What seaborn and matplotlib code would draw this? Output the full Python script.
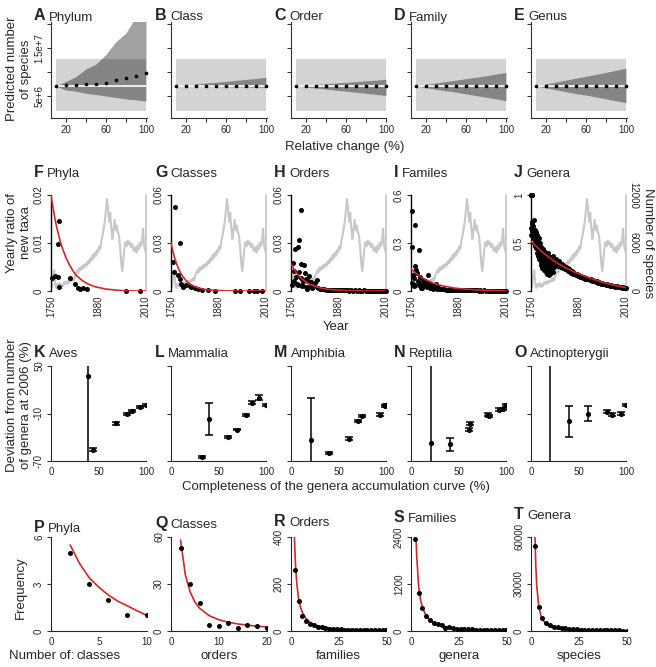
import numpy as np
import pandas as pd
import seaborn as sns
import matplotlib
matplotlib.use("Agg")
import matplotlib.pyplot as plt

sns.set_style("ticks")
plt.rcParams["font.family"] = ["Liberation Sans", "DejaVu Sans"]
plt.rcParams["axes.linewidth"] = 0.8

W, H = 656, 667
RED = "#d02828"
GREY = "#c8c8c8"
LEFTS = [51, 171, 291, 411, 531]
TITLE_X = [34, 155, 274, 394, 514]

# ---------------- row 1 : predicted number of species (millions) ----------------
rel_change = [10, 20, 30, 40, 50, 60, 70, 80, 90, 100]
row1_names = [("A", "Phylum"), ("B", "Class"), ("C", "Order"), ("D", "Family"), ("E", "Genus")]
pred_species = [
    [7.15, 7.35, 7.35, 7.56, 7.56, 7.77, 8.33, 8.75, 9.17, 9.79],
    [7.1, 7.1, 7.1, 7.1, 7.1, 7.1, 7.1, 7.1, 7.1, 7.1],
    [7.1, 7.1, 7.1, 7.1, 7.1, 7.1, 7.1, 7.1, 7.1, 7.05],
    [7.1, 7.1, 7.1, 7.1, 7.1, 7.1, 7.1, 7.1, 7.05, 7.0],
    [7.1, 7.1, 7.1, 7.1, 7.0, 7.15, 7.1, 7.1, 7.1, 7.15],
]
band_upper = [
    [7.1, 8.0, 9.0, 10.6, 11.6, 13.6, 16.3, 18.1, 21.5, 23.0],
    [7.1, 7.3, 7.5, 7.7, 7.85, 8.05, 8.25, 8.45, 8.65, 8.9],
    [7.1, 7.25, 7.4, 7.55, 7.7, 7.85, 8.0, 8.15, 8.3, 8.5],
    [7.1, 7.4, 7.7, 8.0, 8.3, 8.6, 8.9, 9.2, 9.55, 9.9],
    [7.1, 7.5, 7.9, 8.3, 8.7, 9.1, 9.5, 9.9, 10.35, 10.8],
]
band_lower = [
    [7.1, 6.25, 6.0, 5.56, 5.3, 5.0, 4.7, 4.4, 4.2, 3.96],
    [7.1, 7.05, 7.0, 6.98, 6.95, 6.92, 6.9, 6.87, 6.85, 6.8],
    [7.1, 6.88, 6.66, 6.44, 6.22, 6.0, 5.78, 5.56, 5.34, 5.1],
    [7.1, 6.75, 6.4, 6.1, 5.8, 5.45, 5.1, 4.75, 4.4, 4.0],
    [7.1, 6.7, 6.3, 5.9, 5.5, 5.2, 4.8, 4.4, 4.0, 3.6],
]
range_x = [10, 100]
range_lo, range_hi = 1.9, 12.7
baseline_species = 7.1

# ---------------- row 2 : yearly ratio of new taxa ----------------
grey_years = np.arange(1750, 2009, 3)
grey_species = [
    300, 600, 2000, 2600, 700, 400, 900, 600, 1000, 500,
    800, 600, 1100, 900, 1200, 900, 1300, 1100, 1400, 1200,
    1600, 1300, 1900, 2200, 2600, 2300, 2900, 2600, 3100, 2800,
    3300, 3000, 3500, 3200, 3800, 3500, 4100, 3800, 4500, 4100,
    4800, 4400, 5100, 4800, 5600, 5300, 6300, 6900, 7700, 8600,
    9900, 11500, 10300, 8700, 9800, 7900, 6500, 7700, 8900, 7600,
    8200, 7400, 6900, 5500, 3600, 2500, 3900, 5300, 6100, 5600,
    6300, 5800, 6100, 5500, 5900, 5200, 5000, 5500, 4800, 5700,
    5200, 6100, 5600, 6200, 7800, 5600, 5000,
]
fit_years = [1750, 1755, 1760, 1765, 1770, 1775, 1780, 1790, 1800, 1810,
             1820, 1835, 1850, 1870, 1900, 1940, 1980, 2010]
fit_phyla = [0.0200, 0.0176, 0.0154, 0.0135, 0.0119, 0.0104, 0.0092, 0.0071, 0.0055, 0.0042,
             0.0032, 0.0022, 0.0015, 0.0009, 0.0004, 0.0001, 0.0000, 0.0000]
fit_classes = [0.0300, 0.0249, 0.0207, 0.0172, 0.0143, 0.0119, 0.0099, 0.0068, 0.0047, 0.0033,
               0.0023, 0.0013, 0.0007, 0.0004, 0.0001, 0.0000, 0.0000, 0.0000]
fit_orders = [0.0170, 0.0149, 0.0130, 0.0114, 0.0099, 0.0087, 0.0076, 0.0058, 0.0044, 0.0034,
              0.0026, 0.0017, 0.0011, 0.0007, 0.0003, 0.0001, 0.0000, 0.0000]
fit_families = [0.140, 0.128, 0.118, 0.108, 0.099, 0.092, 0.084, 0.071, 0.060, 0.050,
                0.043, 0.033, 0.026, 0.018, 0.011, 0.006, 0.003, 0.002]
fit_genera = [0.520, 0.500, 0.480, 0.462, 0.444, 0.426, 0.410, 0.378, 0.348, 0.320,
              0.295, 0.262, 0.232, 0.196, 0.150, 0.098, 0.058, 0.035]

new_phyla = [(1754, 0.0027), (1762, 0.0032), (1768, 0.0030), (1773, 0.0146), (1768, 0.0098),
             (1773, 0.0009), (1803, 0.0028), (1817, 0.0014), (1823, 0.0007), (1828, 0.0004),
             (1837, 0.0006), (1848, 0.0005), (1955, 0.0001), (1994, 0.0001)]
new_classes = [(1761, 0.0527), (1775, 0.0298), (1755, 0.018), (1759, 0.012), (1768, 0.010),
               (1775, 0.0073), (1778, 0.0044), (1782, 0.0027), (1792, 0.0037), (1801, 0.003),
               (1806, 0.0028), (1815, 0.0018), (1824, 0.0012), (1834, 0.0008), (1852, 0.0005),
               (1871, 0.0003), (1926, 0.0002), (1940, 0.0002), (1963, 0.0002), (1977, 0.0002),
               (1986, 0.0002), (1998, 0.0002)]
new_orders = [(1776, 0.0507), (1773, 0.0316), (1761, 0.0265), (1768, 0.0273), (1755, 0.0176),
              (1778, 0.0166), (1785, 0.0161), (1759, 0.0124), (1773, 0.012), (1787, 0.0114),
              (1763, 0.009), (1776, 0.008), (1790, 0.0076), (1798, 0.0093), (1757, 0.006),
              (1783, 0.006), (1796, 0.0064), (1805, 0.0056), (1815, 0.0049), (1821, 0.0071),
              (1768, 0.0037), (1779, 0.003), (1792, 0.0025), (1801, 0.0033), (1811, 0.0025),
              (1825, 0.002), (1752, 0.004), (1766, 0.0045), (1781, 0.0035), (1794, 0.0015),
              (1808, 0.0018),
              (1830, 0.0014), (1835, 0.0010), (1840, 0.0012), (1845, 0.0008), (1850, 0.0009),
              (1855, 0.0007), (1860, 0.0006), (1865, 0.0008), (1870, 0.0005), (1875, 0.0006),
              (1880, 0.0005), (1885, 0.0004), (1890, 0.0006), (1895, 0.0004), (1900, 0.0005),
              (1905, 0.0004), (1910, 0.0003), (1915, 0.0005), (1920, 0.0003), (1925, 0.0004),
              (1930, 0.0003), (1935, 0.0004), (1940, 0.0003), (1945, 0.0002), (1950, 0.0004),
              (1955, 0.0003), (1960, 0.0002), (1965, 0.0003), (1970, 0.0002), (1975, 0.0003),
              (1980, 0.0002), (1985, 0.0003), (1990, 0.0002), (1995, 0.0002), (2000, 0.0003),
              (2005, 0.0002), (2010, 0.0002)]
new_families = [(1753, 0.503), (1760, 0.41), (1753, 0.275), (1772, 0.255), (1762, 0.155),
                (1765, 0.13), (1756, 0.10), (1767, 0.11), (1775, 0.09), (1759, 0.08),
                (1782, 0.071), (1789, 0.064), (1796, 0.10), (1752, 0.05), (1770, 0.06),
                (1778, 0.045), (1785, 0.055), (1792, 0.04), (1800, 0.05), (1806, 0.035),
                (1812, 0.03), (1818, 0.045), (1824, 0.025), (1757, 0.03), (1773, 0.035),
                (1780, 0.02), (1787, 0.03), (1794, 0.025), (1803, 0.02), (1810, 0.015),
                (1816, 0.02), (1822, 0.012), (1828, 0.015), (1762, 0.04), (1776, 0.02),
                (1830, 0.012), (1835, 0.010), (1840, 0.011), (1845, 0.009), (1850, 0.008),
                (1855, 0.009), (1860, 0.007), (1865, 0.008), (1870, 0.006), (1875, 0.007),
                (1880, 0.006), (1885, 0.006), (1890, 0.005), (1895, 0.006), (1900, 0.005),
                (1905, 0.005), (1910, 0.004), (1915, 0.005), (1920, 0.004), (1925, 0.004),
                (1930, 0.004), (1935, 0.003), (1940, 0.004), (1945, 0.003), (1950, 0.004),
                (1955, 0.003), (1960, 0.003), (1965, 0.003), (1970, 0.003), (1975, 0.003),
                (1980, 0.002), (1985, 0.003), (1990, 0.002), (1995, 0.003), (2000, 0.002),
                (2005, 0.002), (2010, 0.002)]
new_genera = [(1750, 1.0), (1751, 1.0), (1752, 1.0), (1753, 1.0),
              (1750, 0.58), (1751, 0.66), (1752, 0.72), (1753, 0.62), (1754, 0.70), (1755, 0.55),
              (1756, 0.68), (1757, 0.60), (1758, 0.74), (1759, 0.50), (1760, 0.64), (1761, 0.57),
              (1762, 0.47), (1763, 0.61), (1764, 0.53), (1765, 0.45), (1766, 0.58), (1767, 0.40),
              (1768, 0.52), (1769, 0.48), (1770, 0.36), (1771, 0.55), (1772, 0.43), (1773, 0.33),
              (1774, 0.50), (1775, 0.39), (1776, 0.30), (1777, 0.46), (1778, 0.27), (1779, 0.42),
              (1780, 0.35), (1781, 0.24), (1782, 0.44), (1783, 0.31), (1784, 0.38), (1785, 0.22),
              (1786, 0.29), (1787, 0.41), (1788, 0.26), (1789, 0.34), (1790, 0.20), (1791, 0.37),
              (1792, 0.28), (1793, 0.18), (1794, 0.32), (1795, 0.24), (1796, 0.40), (1797, 0.21),
              (1798, 0.30), (1799, 0.17), (1800, 0.27), (1801, 0.35), (1802, 0.22), (1803, 0.31),
              (1804, 0.19), (1805, 0.26), (1806, 0.33), (1807, 0.23), (1808, 0.29), (1809, 0.20),
              (1810, 0.36), (1812, 0.25), (1814, 0.31), (1816, 0.27), (1818, 0.33), (1820, 0.28),
              (1822, 0.30), (1824, 0.26), (1826, 0.31), (1828, 0.27), (1830, 0.29), (1832, 0.25),
              (1834, 0.27), (1836, 0.28), (1838, 0.24), (1840, 0.26), (1842, 0.25), (1844, 0.23),
              (1846, 0.25), (1848, 0.22), (1850, 0.24), (1852, 0.21), (1854, 0.23), (1856, 0.20),
              (1858, 0.22), (1860, 0.19), (1862, 0.21), (1864, 0.18), (1866, 0.20), (1868, 0.19),
              (1870, 0.18), (1873, 0.17), (1876, 0.18), (1879, 0.16), (1882, 0.17), (1885, 0.15),
              (1888, 0.16), (1891, 0.14), (1894, 0.15), (1897, 0.13), (1900, 0.14), (1903, 0.12),
              (1906, 0.13), (1909, 0.12), (1912, 0.11), (1915, 0.12), (1918, 0.10), (1921, 0.11),
              (1924, 0.10), (1927, 0.09), (1930, 0.10), (1933, 0.08), (1936, 0.09), (1939, 0.08),
              (1942, 0.07), (1945, 0.08), (1948, 0.07), (1951, 0.07), (1954, 0.06), (1957, 0.07),
              (1960, 0.06), (1963, 0.06), (1966, 0.05), (1969, 0.06), (1972, 0.05), (1975, 0.05),
              (1978, 0.05), (1981, 0.04), (1984, 0.05), (1987, 0.04), (1990, 0.04), (1993, 0.04),
              (1996, 0.04), (1999, 0.03), (2002, 0.04), (2005, 0.03), (2008, 0.03), (2010, 0.03)]

row2 = [("F", "Phyla", new_phyla, fit_phyla, 0.02, ["0", "0.01", "0.02"]),
        ("G", "Classes", new_classes, fit_classes, 0.06, ["0", "0.03", "0.06"]),
        ("H", "Orders", new_orders, fit_orders, 0.06, ["0", "0.03", "0.06"]),
        ("I", "Familes", new_families, fit_families, 0.6, ["0", "0.3", "0.6"]),
        ("J", "Genera", new_genera, fit_genera, 1.0, ["0", "0.5", "1"])]

# ---------------- row 3 : deviation from number of genera at 2006 ----------------
# (completeness %, deviation %, error)
dev_aves = [(39.3, 37.7, 200), (44.6, -55.6, 2), (68, -22.3, 2), (79.6, -10.4, 1.5),
            (85, -6.6, 1.5), (93.7, -2.0, 1.5), (100, 1.0, 1.5)]
dev_mammalia = [(32.8, -64.9, 1.5), (40.3, -17.2, 20.5), (60.3, -39.6, 1), (69, -30.3, 1),
                (79.3, -12.1, 1), (85.2, 3.5, 2), (93.1, 9.9, 3), (100, 0.6, 1)]
dev_amphibia = [(20.7, -43.4, 53), (39.6, -59.9, 1.5), (61.4, -41.7, 1.5), (70.7, -19.7, 1.5),
                (74.8, -13.0, 1.5), (93.8, -11.3, 1.5), (99, -0.7, 1.5), (100, 0.6, 1.5)]
dev_reptilia = [(21, -46.8, 200), (41, -48.9, 8.5), (60.7, -30.3, 1.5), (62, -22.7, 2),
                (80.7, -11.3, 1.5), (82.5, -13.0, 1.5), (93, -5.0, 1.5), (96.5, -4.0, 1.5),
                (100, 0.6, 1.5)]
dev_actino = [(20, -150, 300), (39.7, -19.7, 19.6), (59.7, -10.0, 9), (80, -7.9, 2),
              (85.2, -11.3, 1.5), (94.8, -10.0, 1.5), (100, 0.6, 1.5)]
row3 = [("K", "Aves", dev_aves), ("L", "Mammalia", dev_mammalia), ("M", "Amphibia", dev_amphibia),
        ("N", "Reptilia", dev_reptilia), ("O", "Actinopterygii", dev_actino)]

# ---------------- row 4 : frequency distributions ----------------
freq_x_small = [2, 4, 6, 8, 10]
freq_phyla = [5, 3, 2, 1, 1]
freq_x_mid = [2, 4, 6, 8, 10, 12, 14, 16, 18, 20]
freq_classes = [53, 30, 18, 4, 3, 5, 2, 4, 3, 2]
freq_x_big = [2, 4, 6, 8, 10, 12, 14, 16, 18, 20, 22, 24, 26, 28, 30, 32, 34, 36, 38, 40,
              42, 44, 46, 48, 50]
freq_orders = [260, 128, 62, 44, 28, 26, 19, 19, 12, 9, 8, 7, 9, 6, 5, 6, 4, 5, 4, 3,
               4, 3, 3, 4, 5]
freq_families = [2349, 965, 598, 384, 282, 196, 178, 153, 85, 110, 68, 60, 55, 50, 45, 42,
                 38, 35, 33, 30, 28, 26, 25, 24, 22]
freq_genera = [54450, 15590, 8120, 5340, 3840, 2780, 2350, 1900, 1600, 1350, 1150, 1000,
               880, 780, 700, 620, 560, 500, 460, 420, 390, 360, 330, 310, 290]
fitx_phyla = [2, 3, 4, 5, 6, 7, 8, 9, 10]
fity_phyla = [5.5, 4.3, 3.4, 2.8, 2.3, 1.9, 1.6, 1.3, 1.0]
fitx_classes = [2, 3, 4, 5, 6, 8, 10, 12, 14, 16, 18, 20]
fity_classes = [58, 36, 25, 18.5, 14.5, 9.8, 7.2, 5.6, 4.5, 3.7, 3.1, 2.6]
fitx_orders = [1.8, 2, 2.5, 3, 4, 5, 6, 8, 10, 12, 15, 20, 25, 30, 40, 50]
fity_orders = [400, 350, 260, 205, 135, 100, 78, 52, 37, 28, 20, 13, 9, 7, 4.5, 3.2]
fitx_families = [2.6, 3, 4, 5, 6, 8, 10, 12, 14, 16, 20, 25, 30, 40, 50]
fity_families = [2400, 1900, 1150, 800, 600, 380, 270, 200, 160, 130, 90, 62, 46, 28, 19]
fitx_genera = [2.1, 2.5, 3, 4, 5, 6, 8, 10, 12, 15, 20, 25, 30, 40, 50]
fity_genera = [60000, 42000, 29000, 16500, 10500, 7400, 4200, 2700, 1900, 1200, 680, 440, 310, 170, 110]

row4 = [("P", "Phyla", freq_x_small, freq_phyla, fitx_phyla, fity_phyla, 10, [0, 5, 10], 6, ["0", "3", "6"], "classes"),
        ("Q", "Classes", freq_x_mid, freq_classes, fitx_classes, fity_classes, 20, [0, 10, 20], 60, ["0", "30", "60"], "orders"),
        ("R", "Orders", freq_x_big, freq_orders, fitx_orders, fity_orders, 50, [0, 25, 50], 400, ["0", "200", "400"], "families"),
        ("S", "Families", freq_x_big, freq_families, fitx_families, fity_families, 50, [0, 25, 50], 2400, ["0", "1200", "2400"], "genera"),
        ("T", "Genera", freq_x_big, freq_genera, fitx_genera, fity_genera, 50, [0, 25, 50], 60000, ["0", "30000", "60000"], "species")]
row4_title_base = [532, 528, 526, 522, 519]

fig = plt.figure(figsize=(W / 100, H / 100), dpi=100)


def px_axes(left, top, w, h):
    return fig.add_axes([left / W, 1 - (top + h) / H, w / W, h / H])


def fx(x):
    return x / W


def fy(y):
    return 1 - y / H


def panel_title(ax, col, baseline, letter, name):
    t = fig.text(fx(TITLE_X[col]), fy(baseline), letter, fontsize=11.5, fontweight="bold",
                 va="baseline", ha="left")
    ax.annotate(name, xy=(1, 0), xycoords=t, xytext=(2.5, 0), textcoords="offset points",
                va="bottom", ha="left", fontsize=9.5)


def style_ticks(ax):
    ax.tick_params(axis="both", direction="out", length=3, width=0.8, labelsize=7, pad=2,
                   color="#333333")


# ---- row 1
for i, (letter, name) in enumerate(row1_names):
    ax = px_axes(LEFTS[i], 22, 95.5, 96)
    ax.fill_between(range_x, range_lo, range_hi, color="#d3d3d3", lw=0, zorder=1)
    ax.fill_between(rel_change, band_lower[i], band_upper[i], color="black", alpha=0.37,
                    lw=0, zorder=2)
    ax.hlines(baseline_species, range_x[0], range_x[1], color="white", lw=1.2, zorder=3)
    sns.scatterplot(x=rel_change, y=pred_species[i], ax=ax, color="black", s=7,
                    linewidth=0, zorder=4, clip_on=False)
    ax.set_xlim(5.5, 100.5)
    ax.set_ylim(0.42, 20.4)
    ax.set_xticks([20, 40, 60, 80, 100])
    ax.set_xticklabels(["20", "", "60", "", "100"])
    ax.set_yticks([5, 10, 15, 20])
    if i == 0:
        ax.set_yticklabels(["5e+6", "", "1.5e+7", ""], rotation=90, va="center")
    else:
        ax.set_yticklabels([])
    sns.despine(ax=ax)
    for s in ("left", "bottom"):
        ax.spines[s].set_color("#333333")
    style_ticks(ax)
    panel_title(ax, i, 20.5, letter, name)

# ---- row 2
for i, (letter, name, pts, fit, ymax, ylabels) in enumerate(row2):
    ax = px_axes(LEFTS[i], 195, 95, 96)
    ax2 = ax.twinx()
    sns.lineplot(x=grey_years, y=grey_species, ax=ax2, color=GREY, lw=1.5)
    ax2.set_ylim(0, 12000)
    ax.set_zorder(ax2.get_zorder() + 1)
    ax.patch.set_visible(False)
    df = pd.DataFrame(pts, columns=["year", "ratio"])
    sns.scatterplot(data=df, x="year", y="ratio", ax=ax, color="black", s=13, linewidth=0,
                    zorder=3, clip_on=False)
    sns.lineplot(x=fit_years, y=fit, ax=ax, color=RED, lw=1.2, zorder=4)
    ax.set_xlim(1750, 2010)
    ax.set_ylim(0, ymax)
    ax.set_xticks([1750, 1880, 2010])
    ax.set_xticklabels(["1750", "1880", "2010"], rotation=90, va="top")
    ax.set_yticks([0, ymax / 2, ymax])
    ax.set_yticklabels(ylabels, rotation=90, va="center")
    ax.set_xlabel("")
    ax.set_ylabel("")
    for s in ("top", "right", "bottom"):
        ax.spines[s].set_visible(False)
    for s in ("top", "left", "bottom"):
        ax2.spines[s].set_visible(False)
    ax2.spines["right"].set_color(GREY)
    ax2.spines["right"].set_linewidth(1.3)
    ax.spines["left"].set_color("black")
    ax.spines["left"].set_linewidth(1.0)
    style_ticks(ax)
    ax.tick_params(axis="x", length=0, pad=3)
    ax2.set_ylabel("")
    if i == 4:
        ax2.set_yticks([0, 6000, 12000])
        ax2.set_yticklabels(["0", "6000", "12000"], rotation=270, va="center")
        ax2.tick_params(axis="y", length=0, pad=2, labelsize=7)
        ax2.set_ylabel("Number of species", rotation=270, va="bottom", fontsize=9.5,
                       labelpad=2)
    else:
        ax2.set_yticks([])
    panel_title(ax, i, 177, letter, name)

# ---- row 3
for i, (letter, name, pts) in enumerate(row3):
    ax = px_axes(LEFTS[i], 366, 95, 95)
    df = pd.DataFrame(pts, columns=["x", "y", "err"])
    ax.errorbar(df["x"], df["y"], yerr=df["err"], fmt="none", ecolor="black",
                elinewidth=1.1, capsize=2.6, capthick=1.1)
    sns.scatterplot(data=df, x="x", y="y", ax=ax, color="black", s=14, linewidth=0, zorder=3)
    ax.set_xlim(0, 100)
    ax.set_ylim(-70, 50)
    ax.set_xticks([0, 50, 100])
    ax.set_yticks([-70, -10, 50])
    if i == 0:
        ax.set_yticklabels(["-70", "-10", "50"], rotation=90, va="center")
    else:
        ax.set_yticklabels([])
    ax.set_xlabel("")
    ax.set_ylabel("")
    sns.despine(ax=ax)
    style_ticks(ax)
    ax.tick_params(axis="x", length=0, pad=4)
    panel_title(ax, i, 357, letter, name)

# ---- row 4
for i, (letter, name, x, y, fx_, fy_, xmax, xt, ymax, ylab, xlab) in enumerate(row4):
    ax = px_axes(LEFTS[i], 537, 95.5, 94)
    sns.lineplot(x=fx_, y=fy_, ax=ax, color=RED, lw=1.2, zorder=2)
    sns.scatterplot(x=x, y=y, ax=ax, color="black", s=13, linewidth=0, zorder=3)
    ax.set_xlim(0, xmax)
    ax.set_ylim(0, ymax)
    ax.set_xticks(xt)
    ax.set_xticklabels([str(v) for v in xt])
    ax.set_yticks([0, ymax / 2, ymax])
    ax.set_yticklabels(ylab, rotation=90, va="center")
    sns.despine(ax=ax)
    style_ticks(ax)
    ax.tick_params(axis="x", length=0, pad=4)
    panel_title(ax, i, row4_title_base[i], letter, name)
    fig.text(fx(LEFTS[i] + 47.75), fy(656), xlab, ha="center", va="center", fontsize=9.5)

# ---- shared labels
fig.text(fx(19), fy(69), "Predicted number\nof species", rotation=90, ha="center",
         va="center", fontsize=9.5, linespacing=1.3)
fig.text(fx(345), fy(147), "Relative change (%)", ha="center", va="center", fontsize=9.5)
fig.text(fx(19), fy(233), "Yearly ratio of\nnew taxa", rotation=90, ha="center",
         va="center", fontsize=9.5, linespacing=1.3)
fig.text(fx(336), fy(327), "Year", ha="center", va="center", fontsize=9.5)
fig.text(fx(19), fy(405), "Deviation from number\nof genera at 2006 (%)", rotation=90,
         ha="center", va="center", fontsize=9.5, linespacing=1.3)
fig.text(fx(336), fy(487), "Completeness of the genera accumulation curve (%)", ha="center",
         va="center", fontsize=9.5)
fig.text(fx(21), fy(588), "Frequency", rotation=90, ha="center", va="center", fontsize=9.5)
fig.text(fx(9), fy(656), "Number of:", ha="left", va="center", fontsize=9.5)

fig.savefig("out.png", dpi=100)
